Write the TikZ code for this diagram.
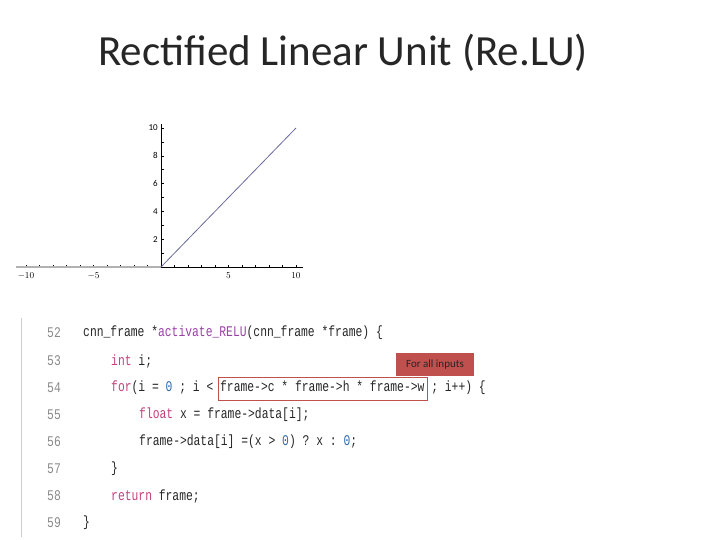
\documentclass[tikz,border=0pt]{standalone}
\usepackage{fontspec}
\usepackage{graphicx}
\setmainfont{Carlito}
\setmonofont{Liberation Mono}
\definecolor{kw}{HTML}{C2407E}
\definecolor{fn}{HTML}{9B3FA8}
\definecolor{num}{HTML}{2A6AB0}
\definecolor{lno}{HTML}{8A8A8A}
\definecolor{boxred}{HTML}{C0504D}
\definecolor{plotline}{HTML}{6A6A9E}
\newcommand{\tallcode}[1]{\scalebox{1}[1.3]{#1}}
\begin{document}
\begin{tikzpicture}[x=1pt,y=-1pt,
  code/.style={anchor=west,inner sep=0,font=\ttfamily\fontsize{11.35}{12}\selectfont,text=black!85},
  lnum/.style={anchor=west,inner sep=0,font=\ttfamily\fontsize{11.35}{12}\selectfont,text=lno},
  tlab/.style={inner sep=0,font=\fontsize{9}{10}\selectfont\rmfamily}]
\useasboundingbox (0,0) rectangle (720,540);
\node[text=black!85] (title) at (343,53) {\fontsize{43}{48}\selectfont Rectified Linear Unit (Re.LU)};
% plot
\draw[line width=0.6pt] (16,267) -- (303,267);
\draw[line width=0.6pt] (161,267) -- (161,124);
\foreach \i in {-10,...,10}{\draw (161+13.5*\i,267) -- (161+13.5*\i,264.5);}
\foreach \i in {1,...,10}{\draw (161,267-13.9*\i) -- (163.5,267-13.9*\i);}
\foreach \i in {-10,-5,5,10}{\node[tlab] (xl\i) at (161+13.5*\i,276) {$\i$};}
\foreach \i in {2,4,6,8,10}{\node[tlab,anchor=east] (yl\i) at (158,267-13.9*\i) {\i};}
\draw[gray!60,line width=1.3pt] (16,267) -- (161,267);
\draw[plotline,line width=0.8pt] (161,267) -- (296,128);
% code
\draw[black!20,line width=0.8pt] (21,318) -- (21,537);
\foreach \n/\y in {52/333,53/361,54/388,55/415,56/442,57/469,58/496,59/523}{\node[lnum] (n\n) at (47,\y) {\tallcode{\n}};}
\node[code] (c52) at (83,333) {\tallcode{cnn\_frame *\textcolor{fn}{activate\_RELU}(cnn\_frame *frame) \{}};
\node[code] (c53) at (111,361) {\tallcode{\textcolor{kw}{int} i;}};
\node[code] (c54) at (111,388) {\tallcode{\textcolor{kw}{for}(i = \textcolor{num}{0} ; i < frame->c * frame->h * frame->w ; i++) \{}};
\node[code] (c55) at (139,415) {\tallcode{\textcolor{kw}{float} x = frame->data[i];}};
\node[code] (c56) at (139,442) {\tallcode{frame->data[i] =(x > \textcolor{num}{0}) ? x : \textcolor{num}{0};}};
\node[code] (c57) at (111,469) {\tallcode{\}}};
\node[code] (c58) at (111,496) {\tallcode{\textcolor{kw}{return} frame;}};
\node[code] (c59) at (83,523) {\tallcode{\}}};
\draw[boxred,line width=0.8pt] (218,377) rectangle (427,400);
\node[fill=boxred,minimum width=78pt,minimum height=23pt,inner sep=0,font=\fontsize{11}{12}\selectfont,text=black!85] (lab) at (435,364.5) {For all inputs};
\end{tikzpicture}
\end{document}
